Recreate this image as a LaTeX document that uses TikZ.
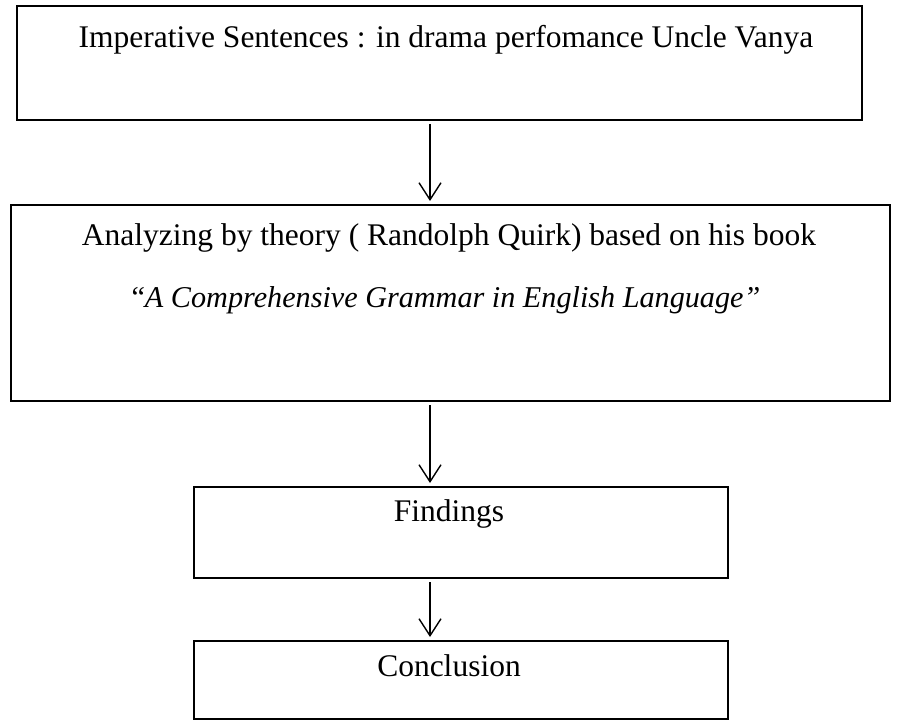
\documentclass[tikz,border=0pt]{standalone}
\usepackage{fontspec}
\setmainfont{Liberation Serif}
\usetikzlibrary{arrows.meta}
\tikzset{
  boxx/.style={draw, line width=2pt, anchor=north west, inner sep=0pt},
  txt/.style={font=\fontsize{31.5}{36}\selectfont, inner sep=0pt, anchor=base},
  flowarrow/.style={line width=1.4pt, -{Straight Barb[length=17pt,width=22pt,line width=1.4pt]}, shorten <=3pt, shorten >=3pt}
}
\begin{document}
\begin{tikzpicture}[x=1pt,y=-1pt]
\useasboundingbox (0,0) rectangle (905,722);
\node[boxx, minimum width=845pt, minimum height=114pt] (b1) at (16,5) {};
\node[boxx, minimum width=879pt, minimum height=196pt] (b2) at (10,204) {};
\node[boxx, minimum width=534pt, minimum height=91pt] (b3) at (193,486) {};
\node[boxx, minimum width=534pt, minimum height=78pt] (b4) at (193,640) {};
\node[txt] (t1) at (446,48) {Imperative Sentences : in drama perfomance Uncle Vanya};
\node[txt] (t2a) at (449,245) {Analyzing by theory ( Randolph Quirk) based on his book};
\node[txt, font=\fontsize{30.2}{36}\selectfont] (t2b) at (446,307) {``\textit{A Comprehensive Grammar in English Language''}};
\node[txt] (t3) at (449,521) {Findings};
\node[txt] (t4) at (449,676) {Conclusion};
\coordinate (ax) at (430,0);
\draw[flowarrow] (b1.south -| ax) -- (b2.north -| ax);
\draw[flowarrow] (b2.south -| ax) -- (b3.north -| ax);
\draw[flowarrow] (b3.south -| ax) -- (b4.north -| ax);
\end{tikzpicture}
\end{document}
